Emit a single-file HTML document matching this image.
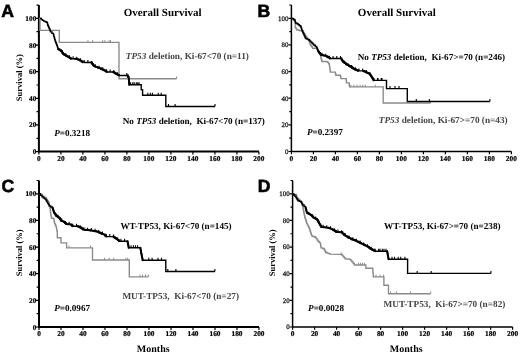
<!DOCTYPE html><html><head><meta charset="utf-8"><style>html,body{margin:0;padding:0;background:#fff;}svg{display:block;filter:grayscale(1);}text{font-family:"Liberation Serif",serif;text-rendering:geometricPrecision;}</style></head><body>
<svg width="520" height="353" viewBox="0 0 520 353">
<rect width="520" height="353" fill="#fff"/>
<g><path d="M38.9 5.08 V152.6 M37.9 151.6 H258.9" stroke="#000" stroke-width="2.0" fill="none"/><path d="M38.9 151.6 H35.7 M38.9 138.28 H36.5 M38.9 124.96 H35.7 M38.9 111.64 H36.5 M38.9 98.32 H35.7 M38.9 85 H36.5 M38.9 71.68 H35.7 M38.9 58.36 H36.5 M38.9 45.04 H35.7 M38.9 31.72 H36.5 M38.9 18.4 H35.7 M38.9 5.08 H36.5 M38.9 151.6 V154.6 M60.9 151.6 V154.6 M82.9 151.6 V154.6 M104.9 151.6 V154.6 M126.9 151.6 V154.6 M148.9 151.6 V154.6 M170.9 151.6 V154.6 M192.9 151.6 V154.6 M214.9 151.6 V154.6 M236.9 151.6 V154.6 M258.9 151.6 V154.6" stroke="#000" stroke-width="1.2" fill="none"/><text x="36.3" y="154.1" font-size="7.3" font-weight="bold" text-anchor="end" stroke="#000" stroke-width="0.2">0</text><text x="36.3" y="127.46" font-size="7.3" font-weight="bold" text-anchor="end" stroke="#000" stroke-width="0.2">20</text><text x="36.3" y="100.82" font-size="7.3" font-weight="bold" text-anchor="end" stroke="#000" stroke-width="0.2">40</text><text x="36.3" y="74.18" font-size="7.3" font-weight="bold" text-anchor="end" stroke="#000" stroke-width="0.2">60</text><text x="36.3" y="47.54" font-size="7.3" font-weight="bold" text-anchor="end" stroke="#000" stroke-width="0.2">80</text><text x="36.3" y="20.9" font-size="7.3" font-weight="bold" text-anchor="end" stroke="#000" stroke-width="0.2">100</text><text x="38.9" y="160.7" font-size="7.4" font-weight="bold" text-anchor="middle" stroke="#000" stroke-width="0.2">0</text><text x="60.9" y="160.7" font-size="7.4" font-weight="bold" text-anchor="middle" stroke="#000" stroke-width="0.2">20</text><text x="82.9" y="160.7" font-size="7.4" font-weight="bold" text-anchor="middle" stroke="#000" stroke-width="0.2">40</text><text x="104.9" y="160.7" font-size="7.4" font-weight="bold" text-anchor="middle" stroke="#000" stroke-width="0.2">60</text><text x="126.9" y="160.7" font-size="7.4" font-weight="bold" text-anchor="middle" stroke="#000" stroke-width="0.2">80</text><text x="148.9" y="160.7" font-size="7.4" font-weight="bold" text-anchor="middle" stroke="#000" stroke-width="0.2">100</text><text x="170.9" y="160.7" font-size="7.4" font-weight="bold" text-anchor="middle" stroke="#000" stroke-width="0.2">120</text><text x="192.9" y="160.7" font-size="7.4" font-weight="bold" text-anchor="middle" stroke="#000" stroke-width="0.2">140</text><text x="214.9" y="160.7" font-size="7.4" font-weight="bold" text-anchor="middle" stroke="#000" stroke-width="0.2">160</text><text x="236.9" y="160.7" font-size="7.4" font-weight="bold" text-anchor="middle" stroke="#000" stroke-width="0.2">180</text><text x="258.9" y="160.7" font-size="7.4" font-weight="bold" text-anchor="middle" stroke="#000" stroke-width="0.2">200</text><path d="M38.9 18.3 L40 18.3 L40 30.4 L59.3 30.4 L59.3 42.4 L119 42.4 L119 78.7 L176.6 78.7" stroke="#8a8a8a" stroke-width="1.35" fill="none" stroke-linejoin="miter"/><path d="M88 42.4 V40.2 M92.6 42.4 V40.2 M102.7 42.4 V40.2 M104.9 42.4 V40.2 M109.1 42.4 V40.2 M110.5 42.4 V40.2 M176.6 78.7 V76.5" stroke="#8a8a8a" stroke-width="1" fill="none"/><path d="M40 18.3 L41.4 18.4 L41.4 19.6 L42.55 19.6 L42.55 20.35 L43.7 20.35 L43.7 21.1 L44.95 21.1 L44.95 21.65 L46.2 21.65 L46.2 22.2 L47.2 22.2 L47.2 22.7 L47.45 22.7 L47.45 23.95 L47.7 23.95 L47.7 25.2 L48.25 25.2 L48.25 26.5 L48.8 26.5 L48.8 27.8 L49.3 27.8 L49.3 28.8 L49.8 28.8 L49.8 29.8 L50.15 29.8 L50.15 30.85 L50.5 30.85 L50.5 31.9 L51.95 31.9 L51.95 33.35 L53.4 33.35 L53.4 34.8 L53.83 34.8 L53.83 36.38 L54.25 36.38 L54.25 37.95 L54.67 37.95 L54.67 39.52 L55.1 39.52 L55.1 41.1 L55.67 41.1 L55.67 42.5 L56.23 42.5 L56.23 43.9 L56.8 43.9 L56.8 45.3 L57.23 45.3 L57.23 46.6 L57.67 46.6 L57.67 47.9 L58.1 47.9 L58.1 49.2 L59.55 49.2 L59.55 50.25 L61 50.25 L61 51.3 L62.1 51.3 L62.1 52.8 L63.2 52.8 L63.2 54.3 L64.47 54.3 L64.47 55 L65.73 55 L65.73 55.7 L67 55.7 L67 56.4 L68.27 56.4 L68.27 57.17 L69.53 57.17 L69.53 57.93 L70.8 57.93 L70.8 58.7 L75 58.7 L76.3 58.7 L76.3 59.07 L77.6 59.07 L77.6 59.43 L78.9 59.43 L78.9 59.8 L80.17 59.8 L80.17 60.63 L81.43 60.63 L81.43 61.47 L82.7 61.47 L82.7 62.3 L85.7 62.5 L90.9 62.5 L92 62.5 L92 63.9 L93.1 63.9 L93.1 65.3 L93.95 65.3 L93.95 65.95 L94.8 65.95 L94.8 66.6 L96.33 66.6 L96.33 67.17 L97.87 67.17 L97.87 67.73 L99.4 67.73 L99.4 68.3 L100.97 68.3 L100.97 69 L102.53 69 L102.53 69.7 L104.1 69.7 L104.1 70.4 L105.35 70.4 L105.35 71.2 L106.6 71.2 L106.6 72 L113 72 L114.13 72 L114.13 72.77 L115.27 72.77 L115.27 73.53 L116.4 73.53 L116.4 74.3 L117.7 74.3 L117.7 74.9 L119 74.9 L119 75.5 L127.3 75.5 L128 75.5 L128 77 L128.7 77 L128.7 78.5 L128.82 78.5 L128.82 80.05 L128.95 80.05 L128.95 81.6 L129.07 81.6 L129.07 83.15 L129.2 83.15 L129.2 84.7 L141.2 84.7 L141.2 89.7 L142.6 89.7 L142.6 95.3 L165.8 95.3 L165.8 106.5 L215 106.5" stroke="#000" stroke-width="1.4" fill="none" stroke-linejoin="miter"/><path d="M58.1 49.2 L59.55 49.2 L59.55 50.25 L61 50.25 L61 51.3 L62.1 51.3 L62.1 52.8 L63.2 52.8 L63.2 54.3 L64.47 54.3 L64.47 55 L65.73 55 L65.73 55.7 L67 55.7 L67 56.4 L68.27 56.4 L68.27 57.17 L69.53 57.17 L69.53 57.93 L70.8 57.93 L70.8 58.7 M75 58.7 L76.3 58.7 L76.3 59.07 L77.6 59.07 L77.6 59.43 L78.9 59.43 L78.9 59.8 L80.17 59.8 L80.17 60.63 L81.43 60.63 L81.43 61.47 L82.7 61.47 L82.7 62.3 M90.9 62.5 L92 62.5 L92 63.9 L93.1 63.9 L93.1 65.3 L93.95 65.3 L93.95 65.95 L94.8 65.95 L94.8 66.6 L96.33 66.6 L96.33 67.17 L97.87 67.17 L97.87 67.73 L99.4 67.73 L99.4 68.3 L100.97 68.3 L100.97 69 L102.53 69 L102.53 69.7 L104.1 69.7 L104.1 70.4 L105.35 70.4 L105.35 71.2 L106.6 71.2 L106.6 72 M113 72 L114.13 72 L114.13 72.77 L115.27 72.77 L115.27 73.53 L116.4 73.53 L116.4 74.3 L117.7 74.3 L117.7 74.9 L119 74.9 L119 75.5 M127.3 75.5 L128 75.5 L128 77 L128.7 77 L128.7 78.5 L128.82 78.5 L128.82 80.05 L128.95 80.05 L128.95 81.6 L129.07 81.6 L129.07 83.15 L129.2 83.15 L129.2 84.7" stroke="#000" stroke-width="1.9" fill="none" stroke-linejoin="round" stroke-linecap="round"/><path d="M126.8 75.5 V73 M130.6 84.7 V82.2 M132.7 84.7 V82.2 M134.2 84.7 V82.2 M136.3 84.7 V82.2 M137.7 84.7 V82.2 M139.1 84.7 V82.2 M147.8 95.3 V92.8 M150.3 95.3 V92.8 M152.4 95.3 V92.8 M158.3 95.3 V92.8 M161.2 95.3 V92.8 M168.5 106.5 V104 M175.1 106.5 V104 M215 106.5 V104 M62 52.66 V50.16 M65.7 55.68 V53.18 M69.4 57.85 V55.35 M73.1 58.7 V56.2 M76.8 59.21 V56.71 M80.5 60.85 V58.35 M84.2 62.4 V59.9 M87.9 62.5 V60 M91.6 63.39 V60.89 M95.3 66.78 V64.28 M99 68.15 V65.65 M102.7 69.77 V67.27 M106.4 71.87 V69.37 M110.1 72 V69.5 M113.8 72.54 V70.04 M117.5 74.81 V72.31" stroke="#000" stroke-width="1.1" fill="none"/><text x="1.2" y="17.4" font-size="17.6" font-weight="bold" stroke="#000" stroke-width="0.6" style="font-family:'Liberation Sans',sans-serif">A</text><text x="162.6" y="15.9" font-size="11.0" font-weight="bold" text-anchor="middle">Overall Survival</text><text x="125.8" y="58.8" font-size="9.25" font-weight="bold" fill="#444444"><tspan font-style="italic">TP53</tspan> deletion, Ki-67&lt;70 (n=11)</text><text x="122.7" y="123.5" font-size="9.15" font-weight="bold">No <tspan font-style="italic">TP53</tspan> deletion,&#160; Ki-67&lt;70 (n=137)</text><text x="54.2" y="135.6" font-size="9.15" font-weight="bold"><tspan font-style="italic">P</tspan>=0.3218</text><text transform="translate(19.3 77.7) rotate(-90)" x="0" y="0" font-size="8.5" font-weight="bold" text-anchor="middle" dominant-baseline="central">Survival (%)</text></g>
<g><path d="M291.4 4.98 V152.25 M290.65 151.5 H511.4" stroke="#000" stroke-width="1.5" fill="none"/><path d="M291.4 151.5 H288.45 M291.4 138.18 H289.25 M291.4 124.86 H288.45 M291.4 111.54 H289.25 M291.4 98.22 H288.45 M291.4 84.9 H289.25 M291.4 71.58 H288.45 M291.4 58.26 H289.25 M291.4 44.94 H288.45 M291.4 31.62 H289.25 M291.4 18.3 H288.45 M291.4 4.98 H289.25 M291.4 151.5 V154.25 M313.4 151.5 V154.25 M335.4 151.5 V154.25 M357.4 151.5 V154.25 M379.4 151.5 V154.25 M401.4 151.5 V154.25 M423.4 151.5 V154.25 M445.4 151.5 V154.25 M467.4 151.5 V154.25 M489.4 151.5 V154.25 M511.4 151.5 V154.25" stroke="#000" stroke-width="1.2" fill="none"/><text x="288.4" y="153.8" font-size="6.9" text-anchor="end" fill="#111" stroke="#222" stroke-width="0.28">0</text><text x="288.4" y="127.16" font-size="6.9" text-anchor="end" fill="#111" stroke="#222" stroke-width="0.28">20</text><text x="288.4" y="100.52" font-size="6.9" text-anchor="end" fill="#111" stroke="#222" stroke-width="0.28">40</text><text x="288.4" y="73.88" font-size="6.9" text-anchor="end" fill="#111" stroke="#222" stroke-width="0.28">60</text><text x="288.4" y="47.24" font-size="6.9" text-anchor="end" fill="#111" stroke="#222" stroke-width="0.28">80</text><text x="288.4" y="20.6" font-size="6.9" text-anchor="end" fill="#111" stroke="#222" stroke-width="0.28">100</text><text x="291.4" y="160.6" font-size="7.4" font-weight="bold" text-anchor="middle" stroke="#000" stroke-width="0.2">0</text><text x="313.4" y="160.6" font-size="7.4" font-weight="bold" text-anchor="middle" stroke="#000" stroke-width="0.2">20</text><text x="335.4" y="160.6" font-size="7.4" font-weight="bold" text-anchor="middle" stroke="#000" stroke-width="0.2">40</text><text x="357.4" y="160.6" font-size="7.4" font-weight="bold" text-anchor="middle" stroke="#000" stroke-width="0.2">60</text><text x="379.4" y="160.6" font-size="7.4" font-weight="bold" text-anchor="middle" stroke="#000" stroke-width="0.2">80</text><text x="401.4" y="160.6" font-size="7.4" font-weight="bold" text-anchor="middle" stroke="#000" stroke-width="0.2">100</text><text x="423.4" y="160.6" font-size="7.4" font-weight="bold" text-anchor="middle" stroke="#000" stroke-width="0.2">120</text><text x="445.4" y="160.6" font-size="7.4" font-weight="bold" text-anchor="middle" stroke="#000" stroke-width="0.2">140</text><text x="467.4" y="160.6" font-size="7.4" font-weight="bold" text-anchor="middle" stroke="#000" stroke-width="0.2">160</text><text x="489.4" y="160.6" font-size="7.4" font-weight="bold" text-anchor="middle" stroke="#000" stroke-width="0.2">180</text><text x="511.4" y="160.6" font-size="7.4" font-weight="bold" text-anchor="middle" stroke="#000" stroke-width="0.2">200</text><path d="M291.4 18.3 L292.67 18.3 L292.67 19.4 L293.93 19.4 L293.93 20.5 L295.2 20.5 L295.2 21.6 L295.2 27.2 L295.85 27.2 L295.85 28.45 L296.5 28.45 L296.5 29.7 L297.63 29.7 L297.63 30 L298.77 30 L298.77 30.3 L299.9 30.3 L299.9 30.6 L300.95 30.6 L300.95 30.8 L302 30.8 L302 31 L302.98 31 L302.98 32.45 L303.95 32.45 L303.95 33.9 L304.92 33.9 L304.92 35.35 L305.9 35.35 L305.9 36.8 L306.75 36.8 L306.75 38.07 L307.6 38.07 L307.6 39.35 L308.45 39.35 L308.45 40.62 L309.3 40.62 L309.3 41.9 L309.75 41.9 L309.75 43.4 L310.2 43.4 L310.2 44.9 L311.03 44.9 L311.03 46.03 L311.87 46.03 L311.87 47.17 L312.7 47.17 L312.7 48.3 L316.1 48.3 L317.05 48.3 L317.05 49.65 L318 49.65 L318 51 L318.8 51 L318.8 52.5 L319.6 52.5 L319.6 54 L320.4 54 L320.4 55.5 L320.75 55.5 L320.75 57 L321.1 57 L321.1 58.5 L321.45 58.5 L321.45 60 L321.8 60 L321.8 61.5 L326 61.5 L326.85 61.5 L326.85 61.9 L327.7 61.9 L327.7 62.3 L328.55 62.3 L328.55 63.8 L329.4 63.8 L329.4 65.3 L329.58 65.3 L329.58 66.66 L329.76 66.66 L329.76 68.02 L329.94 68.02 L329.94 69.38 L330.12 69.38 L330.12 70.74 L330.3 70.74 L330.3 72.1 L335 72.1 L335.4 72.1 L335.4 73.65 L335.8 73.65 L335.8 75.2 L340.1 75.2 L340.4 75.2 L340.4 76.33 L340.7 76.33 L340.7 77.47 L341 77.47 L341 78.6 L346 78.6 L346.17 78.6 L346.17 80 L346.33 80 L346.33 81.4 L346.5 81.4 L346.5 82.8 L349 82.8 L349.17 82.8 L349.17 84.17 L349.33 84.17 L349.33 85.53 L349.5 85.53 L349.5 86.9 L383.2 86.9 L383.2 103 L430.6 103" stroke="#8a8a8a" stroke-width="1.35" fill="none" stroke-linejoin="miter"/><path d="M350.8 86.9 V84.7 M353.9 86.9 V84.7 M357 86.9 V84.7 M360.1 86.9 V84.7 M362.8 86.9 V84.7 M365.3 86.9 V84.7 M375.2 86.9 V84.7 M430.6 103 V100.8" stroke="#8a8a8a" stroke-width="1" fill="none"/><path d="M291.4 18.3 L292 18.5 L293.4 18.5 L293.4 19.45 L294.8 19.45 L294.8 20.4 L295.15 20.4 L295.15 21.7 L295.5 21.7 L295.5 23 L296.9 23 L296.9 23.8 L298.17 23.8 L298.17 24.77 L299.43 24.77 L299.43 25.73 L300.7 25.73 L300.7 26.7 L301.17 26.7 L301.17 28.13 L301.63 28.13 L301.63 29.57 L302.1 29.57 L302.1 31 L302.78 31 L302.78 32.5 L303.46 32.5 L303.46 34 L304.14 34 L304.14 35.5 L304.82 35.5 L304.82 37 L305.5 37 L305.5 38.5 L307 38.5 L307 39.15 L308.5 39.15 L308.5 39.8 L309.55 39.8 L309.55 40.85 L310.6 40.85 L310.6 41.9 L311.73 41.9 L311.73 43.03 L312.87 43.03 L312.87 44.17 L314 44.17 L314 45.3 L315.3 45.3 L315.3 46.55 L316.6 46.55 L316.6 47.8 L317.17 47.8 L317.17 49.07 L317.73 49.07 L317.73 50.33 L318.3 50.33 L318.3 51.6 L319.2 51.6 L319.2 52.73 L320.1 52.73 L320.1 53.87 L321 53.87 L321 55 L322.4 55 L322.4 55.3 L323.8 55.3 L323.8 55.6 L325.2 55.6 L325.2 55.9 L326.77 55.9 L326.77 56.77 L328.33 56.77 L328.33 57.63 L329.9 57.63 L329.9 58.5 L340.9 58.5 L341.6 58.5 L341.6 59.63 L342.3 59.63 L342.3 60.77 L343 60.77 L343 61.9 L344.5 61.9 L344.5 63.15 L346 63.15 L346 64.4 L347.43 64.4 L347.43 65.17 L348.87 65.17 L348.87 65.93 L350.3 65.93 L350.3 66.7 L351.8 66.7 L351.8 67.75 L353.3 67.75 L353.3 68.8 L354.83 68.8 L354.83 69.5 L356.37 69.5 L356.37 70.2 L357.9 70.2 L357.9 70.9 L363 70.9 L364.3 70.9 L364.3 71.55 L365.6 71.55 L365.6 72.2 L366.8 72.2 L366.8 72.73 L368 72.73 L368 73.27 L369.2 73.27 L369.2 73.8 L370.1 73.8 L370.1 75.1 L371 75.1 L371 76.4 L371.9 76.4 L371.9 77.7 L372.7 77.7 L372.7 79.05 L373.5 79.05 L373.5 80.4 L386.5 80.4 L386.5 88.6 L407.3 88.6 L407.3 101.5 L489.9 101.5" stroke="#000" stroke-width="1.4" fill="none" stroke-linejoin="miter"/><path d="M318.3 51.6 L319.2 51.6 L319.2 52.73 L320.1 52.73 L320.1 53.87 L321 53.87 L321 55 L322.4 55 L322.4 55.3 L323.8 55.3 L323.8 55.6 L325.2 55.6 L325.2 55.9 L326.77 55.9 L326.77 56.77 L328.33 56.77 L328.33 57.63 L329.9 57.63 L329.9 58.5 M340.9 58.5 L341.6 58.5 L341.6 59.63 L342.3 59.63 L342.3 60.77 L343 60.77 L343 61.9 L344.5 61.9 L344.5 63.15 L346 63.15 L346 64.4 L347.43 64.4 L347.43 65.17 L348.87 65.17 L348.87 65.93 L350.3 65.93 L350.3 66.7 L351.8 66.7 L351.8 67.75 L353.3 67.75 L353.3 68.8 L354.83 68.8 L354.83 69.5 L356.37 69.5 L356.37 70.2 L357.9 70.2 L357.9 70.9 M363 70.9 L364.3 70.9 L364.3 71.55 L365.6 71.55 L365.6 72.2 L366.8 72.2 L366.8 72.73 L368 72.73 L368 73.27 L369.2 73.27 L369.2 73.8 L370.1 73.8 L370.1 75.1 L371 75.1 L371 76.4 L371.9 76.4 L371.9 77.7 L372.7 77.7 L372.7 79.05 L373.5 79.05 L373.5 80.4" stroke="#000" stroke-width="1.9" fill="none" stroke-linejoin="round" stroke-linecap="round"/><path d="M378 80.4 V77.9 M382 80.4 V77.9 M390 88.6 V86.1 M395 88.6 V86.1 M399 88.6 V86.1 M416.3 101.5 V99 M429.4 101.5 V99 M489.9 101.5 V99 M322 55.21 V52.71 M325.7 56.18 V53.68 M329.4 58.22 V55.72 M333.1 58.5 V56 M336.8 58.5 V56 M340.5 58.5 V56 M344.2 62.9 V60.4 M347.9 65.42 V62.92 M351.6 67.61 V65.11 M355.3 69.71 V67.21 M359 70.9 V68.4 M362.7 70.9 V68.4 M366.4 72.56 V70.06 M370.1 75.1 V72.6 M373.8 80.4 V77.9 M377.5 80.4 V77.9 M381.2 80.4 V77.9" stroke="#000" stroke-width="1.1" fill="none"/><text x="257.6" y="17.4" font-size="17.6" font-weight="bold" stroke="#000" stroke-width="0.6" style="font-family:'Liberation Sans',sans-serif">B</text><text x="396.8" y="16" font-size="11.0" font-weight="bold" text-anchor="middle">Overall Survival</text><text x="357.7" y="59.6" font-size="9.15" font-weight="bold">No <tspan font-style="italic">TP53</tspan> deletion,&#160; Ki-67&gt;=70 (n=246)</text><text x="378.8" y="123.2" font-size="9.25" font-weight="bold" fill="#444444"><tspan font-style="italic">TP53</tspan> deletion, Ki-67&gt;=70 (n=43)</text><text x="306.9" y="135" font-size="9.15" font-weight="bold"><tspan font-style="italic">P</tspan>=0.2397</text></g>
<g><path d="M39 180.48 V328 M38 327 H259" stroke="#000" stroke-width="2.0" fill="none"/><path d="M39 327 H35.8 M39 313.68 H36.6 M39 300.36 H35.8 M39 287.04 H36.6 M39 273.72 H35.8 M39 260.4 H36.6 M39 247.08 H35.8 M39 233.76 H36.6 M39 220.44 H35.8 M39 207.12 H36.6 M39 193.8 H35.8 M39 180.48 H36.6 M39 327 V330 M61 327 V330 M83 327 V330 M105 327 V330 M127 327 V330 M149 327 V330 M171 327 V330 M193 327 V330 M215 327 V330 M237 327 V330 M259 327 V330" stroke="#000" stroke-width="1.2" fill="none"/><text x="36.4" y="329.5" font-size="7.3" font-weight="bold" text-anchor="end" stroke="#000" stroke-width="0.2">0</text><text x="36.4" y="302.86" font-size="7.3" font-weight="bold" text-anchor="end" stroke="#000" stroke-width="0.2">20</text><text x="36.4" y="276.22" font-size="7.3" font-weight="bold" text-anchor="end" stroke="#000" stroke-width="0.2">40</text><text x="36.4" y="249.58" font-size="7.3" font-weight="bold" text-anchor="end" stroke="#000" stroke-width="0.2">60</text><text x="36.4" y="222.94" font-size="7.3" font-weight="bold" text-anchor="end" stroke="#000" stroke-width="0.2">80</text><text x="36.4" y="196.3" font-size="7.3" font-weight="bold" text-anchor="end" stroke="#000" stroke-width="0.2">100</text><text x="39" y="336.1" font-size="7.4" font-weight="bold" text-anchor="middle" stroke="#000" stroke-width="0.2">0</text><text x="61" y="336.1" font-size="7.4" font-weight="bold" text-anchor="middle" stroke="#000" stroke-width="0.2">20</text><text x="83" y="336.1" font-size="7.4" font-weight="bold" text-anchor="middle" stroke="#000" stroke-width="0.2">40</text><text x="105" y="336.1" font-size="7.4" font-weight="bold" text-anchor="middle" stroke="#000" stroke-width="0.2">60</text><text x="127" y="336.1" font-size="7.4" font-weight="bold" text-anchor="middle" stroke="#000" stroke-width="0.2">80</text><text x="149" y="336.1" font-size="7.4" font-weight="bold" text-anchor="middle" stroke="#000" stroke-width="0.2">100</text><text x="171" y="336.1" font-size="7.4" font-weight="bold" text-anchor="middle" stroke="#000" stroke-width="0.2">120</text><text x="193" y="336.1" font-size="7.4" font-weight="bold" text-anchor="middle" stroke="#000" stroke-width="0.2">140</text><text x="215" y="336.1" font-size="7.4" font-weight="bold" text-anchor="middle" stroke="#000" stroke-width="0.2">160</text><text x="237" y="336.1" font-size="7.4" font-weight="bold" text-anchor="middle" stroke="#000" stroke-width="0.2">180</text><text x="259" y="336.1" font-size="7.4" font-weight="bold" text-anchor="middle" stroke="#000" stroke-width="0.2">200</text><path d="M39 193.8 L40.25 193.8 L40.25 194.15 L41.5 194.15 L41.5 194.5 L42.25 194.5 L42.25 195.5 L43 195.5 L43 196.5 L44.5 196.5 L44.5 197.5 L46 197.5 L46 198.5 L46.75 198.5 L46.75 199.75 L47.5 199.75 L47.5 201 L48.25 201 L48.25 202.25 L49 202.25 L49 203.5 L49.25 203.5 L49.25 204.72 L49.5 204.72 L49.5 205.95 L49.75 205.95 L49.75 207.18 L50 207.18 L50 208.4 L50.18 208.4 L50.18 209.76 L50.36 209.76 L50.36 211.12 L50.54 211.12 L50.54 212.48 L50.72 212.48 L50.72 213.84 L50.9 213.84 L50.9 215.2 L51.2 215.2 L51.2 216.7 L51.5 216.7 L51.5 218.2 L52.55 218.2 L52.55 218.4 L53.6 218.4 L53.6 218.6 L53.9 218.6 L53.9 220.17 L54.2 220.17 L54.2 221.73 L54.5 221.73 L54.5 223.3 L55.07 223.3 L55.07 224.57 L55.63 224.57 L55.63 225.83 L56.2 225.83 L56.2 227.1 L56.48 227.1 L56.48 228.57 L56.75 228.57 L56.75 230.05 L57.02 230.05 L57.02 231.53 L57.3 231.53 L57.3 233 L57.3 237.7 L61 237.7 L61 242.8 L66.6 242.8 L66.6 247.8 L92.5 247.8 L92.5 260 L129.3 260 L129.3 276.8 L148.4 276.8" stroke="#8a8a8a" stroke-width="1.35" fill="none" stroke-linejoin="miter"/><path d="M69.1 247.8 V245.6 M90.5 247.8 V245.6 M104.5 260 V257.8 M109.2 260 V257.8 M113.7 260 V257.8 M125.8 260 V257.8 M127.7 260 V257.8 M140 276.8 V274.6 M142.5 276.8 V274.6 M145.5 276.8 V274.6 M148.4 276.8 V274.6" stroke="#8a8a8a" stroke-width="1" fill="none"/><path d="M39 193.8 L40.45 193.8 L40.45 195.35 L41.9 195.35 L41.9 196.9 L43.2 196.9 L43.2 197.9 L44.5 197.9 L44.5 198.9 L45.8 198.9 L45.8 199.9 L46.4 199.9 L46.4 200.95 L47 200.95 L47 202 L47.73 202 L47.73 203.33 L48.47 203.33 L48.47 204.67 L49.2 204.67 L49.2 206 L50.8 206 L50.8 207 L52.4 207 L52.4 208 L52.83 208 L52.83 209.28 L53.25 209.28 L53.25 210.55 L53.67 210.55 L53.67 211.82 L54.1 211.82 L54.1 213.1 L55.15 213.1 L55.15 214.55 L56.2 214.55 L56.2 216 L57.45 216 L57.45 216.85 L58.7 216.85 L58.7 217.7 L59.8 217.7 L59.8 219.2 L60.9 219.2 L60.9 220.7 L62.35 220.7 L62.35 221.35 L63.8 221.35 L63.8 222 L64.9 222 L64.9 223.05 L66 223.05 L66 224.1 L67.53 224.1 L67.53 224.23 L69.07 224.23 L69.07 224.37 L70.6 224.37 L70.6 224.5 L71.45 224.5 L71.45 225.35 L72.3 225.35 L72.3 226.2 L77 226.2 L78.5 226.2 L78.5 226.85 L80 226.85 L80 227.5 L81.45 227.5 L81.45 228.55 L82.9 228.55 L82.9 229.6 L84.45 229.6 L84.45 229.8 L86 229.8 L86 230 L87.45 230 L87.45 230.15 L88.9 230.15 L88.9 230.3 L90.35 230.3 L90.35 230.45 L91.8 230.45 L91.8 230.6 L93.28 230.6 L93.28 230.93 L94.75 230.93 L94.75 231.25 L96.22 231.25 L96.22 231.57 L97.7 231.57 L97.7 231.9 L98.85 231.9 L98.85 232.45 L100 232.45 L100 233 L101.1 233 L101.1 233.47 L102.2 233.47 L102.2 233.93 L103.3 233.93 L103.3 234.4 L104.75 234.4 L104.75 235.5 L106.2 235.5 L106.2 236.6 L113 236.6 L114.13 236.6 L114.13 237.43 L115.27 237.43 L115.27 238.27 L116.4 238.27 L116.4 239.1 L117.7 239.1 L117.7 240.15 L119 240.15 L119 241.2 L127.3 241.3 L127.62 241.3 L127.62 242.9 L127.95 242.9 L127.95 244.5 L128.28 244.5 L128.28 246.1 L128.6 246.1 L128.6 247.7 L140.2 247.7 L140.45 247.7 L140.45 249.15 L140.7 249.15 L140.7 250.6 L140.95 250.6 L140.95 252.05 L141.2 252.05 L141.2 253.5 L141.48 253.5 L141.48 254.86 L141.76 254.86 L141.76 256.22 L142.04 256.22 L142.04 257.58 L142.32 257.58 L142.32 258.94 L142.6 258.94 L142.6 260.3 L165.8 260.3 L165.8 271.5 L214.9 271.5" stroke="#000" stroke-width="1.4" fill="none" stroke-linejoin="miter"/><path d="M52.4 208 L52.83 208 L52.83 209.28 L53.25 209.28 L53.25 210.55 L53.67 210.55 L53.67 211.82 L54.1 211.82 L54.1 213.1 L55.15 213.1 L55.15 214.55 L56.2 214.55 L56.2 216 L57.45 216 L57.45 216.85 L58.7 216.85 L58.7 217.7 L59.8 217.7 L59.8 219.2 L60.9 219.2 L60.9 220.7 L62.35 220.7 L62.35 221.35 L63.8 221.35 L63.8 222 L64.9 222 L64.9 223.05 L66 223.05 L66 224.1 L67.53 224.1 L67.53 224.23 L69.07 224.23 L69.07 224.37 L70.6 224.37 L70.6 224.5 L71.45 224.5 L71.45 225.35 L72.3 225.35 L72.3 226.2 M77 226.2 L78.5 226.2 L78.5 226.85 L80 226.85 L80 227.5 L81.45 227.5 L81.45 228.55 L82.9 228.55 L82.9 229.6 L84.45 229.6 L84.45 229.8 L86 229.8 L86 230 L87.45 230 L87.45 230.15 L88.9 230.15 L88.9 230.3 L90.35 230.3 L90.35 230.45 L91.8 230.45 L91.8 230.6 L93.28 230.6 L93.28 230.93 L94.75 230.93 L94.75 231.25 L96.22 231.25 L96.22 231.57 L97.7 231.57 L97.7 231.9 L98.85 231.9 L98.85 232.45 L100 232.45 L100 233 L101.1 233 L101.1 233.47 L102.2 233.47 L102.2 233.93 L103.3 233.93 L103.3 234.4 L104.75 234.4 L104.75 235.5 L106.2 235.5 L106.2 236.6 M113 236.6 L114.13 236.6 L114.13 237.43 L115.27 237.43 L115.27 238.27 L116.4 238.27 L116.4 239.1 L117.7 239.1 L117.7 240.15 L119 240.15 L119 241.2 M127.3 241.3 L127.62 241.3 L127.62 242.9 L127.95 242.9 L127.95 244.5 L128.28 244.5 L128.28 246.1 L128.6 246.1 L128.6 247.7 M140.2 247.7 L140.45 247.7 L140.45 249.15 L140.7 249.15 L140.7 250.6 L140.95 250.6 L140.95 252.05 L141.2 252.05 L141.2 253.5 L141.48 253.5 L141.48 254.86 L141.76 254.86 L141.76 256.22 L142.04 256.22 L142.04 257.58 L142.32 257.58 L142.32 258.94 L142.6 258.94 L142.6 260.3" stroke="#000" stroke-width="1.9" fill="none" stroke-linejoin="round" stroke-linecap="round"/><path d="M131 247.7 V245.2 M133.4 247.7 V245.2 M135.5 247.7 V245.2 M137.6 247.7 V245.2 M148.8 260.3 V257.8 M152.1 260.3 V257.8 M158 260.3 V257.8 M161.5 260.3 V257.8 M167.8 271.5 V269 M175.9 271.5 V269 M214.9 271.5 V269 M58 217.22 V214.72 M61.7 221.06 V218.56 M65.4 223.53 V221.03 M69.1 224.37 V221.87 M72.8 226.2 V223.7 M76.5 226.2 V223.7 M80.2 227.64 V225.14 M83.9 229.73 V227.23 M87.6 230.17 V227.67 M91.3 230.55 V228.05 M95 231.31 V228.81 M98.7 232.38 V229.88 M102.4 234.02 V231.52 M106.1 236.52 V234.02 M109.8 236.6 V234.1 M113.5 236.97 V234.47 M117.2 239.75 V237.25 M120.9 241.22 V238.72 M124.6 241.27 V238.77" stroke="#000" stroke-width="1.1" fill="none"/><text x="1.6" y="192.4" font-size="17.6" font-weight="bold" stroke="#000" stroke-width="0.6" style="font-family:'Liberation Sans',sans-serif">C</text><text x="120.4" y="228.5" font-size="9.15" font-weight="bold">WT-TP53, Ki-67&lt;70 (n=145)</text><text x="122.4" y="298.5" font-size="9.25" font-weight="bold" fill="#444444">MUT-TP53,&#160; Ki-67&lt;70 (n=27)</text><text x="54.2" y="310.8" font-size="9.15" font-weight="bold"><tspan font-style="italic">P</tspan>=0.0967</text><text transform="translate(19.4 252.8) rotate(-90)" x="0" y="0" font-size="8.5" font-weight="bold" text-anchor="middle" dominant-baseline="central">Survival (%)</text><text x="153.2" y="351.5" font-size="10.0" font-weight="bold" text-anchor="middle">Months</text></g>
<g><path d="M292.6 180.48 V327.75 M291.85 327 H512.6" stroke="#000" stroke-width="1.5" fill="none"/><path d="M292.6 327 H289.65 M292.6 313.68 H290.45 M292.6 300.36 H289.65 M292.6 287.04 H290.45 M292.6 273.72 H289.65 M292.6 260.4 H290.45 M292.6 247.08 H289.65 M292.6 233.76 H290.45 M292.6 220.44 H289.65 M292.6 207.12 H290.45 M292.6 193.8 H289.65 M292.6 180.48 H290.45 M292.6 327 V329.75 M314.6 327 V329.75 M336.6 327 V329.75 M358.6 327 V329.75 M380.6 327 V329.75 M402.6 327 V329.75 M424.6 327 V329.75 M446.6 327 V329.75 M468.6 327 V329.75 M490.6 327 V329.75 M512.6 327 V329.75" stroke="#000" stroke-width="1.2" fill="none"/><text x="289.6" y="329.3" font-size="6.9" text-anchor="end" fill="#111" stroke="#222" stroke-width="0.28">0</text><text x="289.6" y="302.66" font-size="6.9" text-anchor="end" fill="#111" stroke="#222" stroke-width="0.28">20</text><text x="289.6" y="276.02" font-size="6.9" text-anchor="end" fill="#111" stroke="#222" stroke-width="0.28">40</text><text x="289.6" y="249.38" font-size="6.9" text-anchor="end" fill="#111" stroke="#222" stroke-width="0.28">60</text><text x="289.6" y="222.74" font-size="6.9" text-anchor="end" fill="#111" stroke="#222" stroke-width="0.28">80</text><text x="289.6" y="196.1" font-size="6.9" text-anchor="end" fill="#111" stroke="#222" stroke-width="0.28">100</text><text x="292.6" y="336.1" font-size="7.4" font-weight="bold" text-anchor="middle" stroke="#000" stroke-width="0.2">0</text><text x="314.6" y="336.1" font-size="7.4" font-weight="bold" text-anchor="middle" stroke="#000" stroke-width="0.2">20</text><text x="336.6" y="336.1" font-size="7.4" font-weight="bold" text-anchor="middle" stroke="#000" stroke-width="0.2">40</text><text x="358.6" y="336.1" font-size="7.4" font-weight="bold" text-anchor="middle" stroke="#000" stroke-width="0.2">60</text><text x="380.6" y="336.1" font-size="7.4" font-weight="bold" text-anchor="middle" stroke="#000" stroke-width="0.2">80</text><text x="402.6" y="336.1" font-size="7.4" font-weight="bold" text-anchor="middle" stroke="#000" stroke-width="0.2">100</text><text x="424.6" y="336.1" font-size="7.4" font-weight="bold" text-anchor="middle" stroke="#000" stroke-width="0.2">120</text><text x="446.6" y="336.1" font-size="7.4" font-weight="bold" text-anchor="middle" stroke="#000" stroke-width="0.2">140</text><text x="468.6" y="336.1" font-size="7.4" font-weight="bold" text-anchor="middle" stroke="#000" stroke-width="0.2">160</text><text x="490.6" y="336.1" font-size="7.4" font-weight="bold" text-anchor="middle" stroke="#000" stroke-width="0.2">180</text><text x="512.6" y="336.1" font-size="7.4" font-weight="bold" text-anchor="middle" stroke="#000" stroke-width="0.2">200</text><path d="M292.6 193.9 L293.73 193.9 L293.73 194.1 L294.87 194.1 L294.87 194.3 L296 194.3 L296 194.5 L296.33 194.5 L296.33 195.67 L296.67 195.67 L296.67 196.83 L297 196.83 L297 198 L298 198 L298 199 L299 199 L299 200 L300 200 L300 201 L301 201 L301 202 L301.53 202 L301.53 203.5 L302.07 203.5 L302.07 205 L302.6 205 L302.6 206.5 L302.9 206.5 L302.9 208 L303.2 208 L303.2 209.5 L303.5 209.5 L303.5 211 L303.8 211 L303.8 212.5 L304.1 212.5 L304.1 214 L304.4 214 L304.4 215.5 L304.7 215.5 L304.7 217 L305.12 217 L305.12 218.32 L305.54 218.32 L305.54 219.64 L305.96 219.64 L305.96 220.96 L306.38 220.96 L306.38 222.28 L306.8 222.28 L306.8 223.6 L307.43 223.6 L307.43 224.88 L308.05 224.88 L308.05 226.15 L308.68 226.15 L308.68 227.42 L309.3 227.42 L309.3 228.7 L309.73 228.7 L309.73 229.97 L310.15 229.97 L310.15 231.25 L310.57 231.25 L310.57 232.53 L311 232.53 L311 233.8 L311.35 233.8 L311.35 234.85 L311.7 234.85 L311.7 235.9 L312.83 235.9 L312.83 236.33 L313.97 236.33 L313.97 236.77 L315.1 236.77 L315.1 237.2 L316.1 237.2 L316.1 238.63 L317.1 238.63 L317.1 240.07 L318.1 240.07 L318.1 241.5 L319.15 241.5 L319.15 242.35 L320.2 242.35 L320.2 243.2 L320.47 243.2 L320.47 244.73 L320.73 244.73 L320.73 246.27 L321 246.27 L321 247.8 L322.5 247.8 L322.5 248.45 L324 248.45 L324 249.1 L324.57 249.1 L324.57 250.23 L325.13 250.23 L325.13 251.37 L325.7 251.37 L325.7 252.5 L327.13 252.5 L327.13 253.07 L328.57 253.07 L328.57 253.63 L330 253.63 L330 254.2 L341 254.4 L342 254.4 L342 255.4 L343 255.4 L343 256.4 L344.05 256.4 L344.05 257.65 L345.1 257.65 L345.1 258.9 L346.67 258.9 L346.67 259.03 L348.23 259.03 L348.23 259.17 L349.8 259.17 L349.8 259.3 L350.85 259.3 L350.85 260.6 L351.9 260.6 L351.9 261.9 L353.15 261.9 L353.15 263.45 L354.4 263.45 L354.4 265 L365.9 265 L365.9 268.2 L372.7 268.2 L372.8 268.2 L372.8 269.65 L372.9 269.65 L372.9 271.1 L373 271.1 L373 272.55 L373.1 272.55 L373.1 274 L373.2 274 L373.2 275.45 L373.3 275.45 L373.3 276.9 L383.9 276.9 L383.9 285.2 L388.5 285.2 L388.5 293.7 L430.7 293.7" stroke="#8a8a8a" stroke-width="1.35" fill="none" stroke-linejoin="miter"/><path d="M341.3 254.7 V252.5 M358.5 265 V262.8 M360.4 265 V262.8 M362.5 265 V262.8 M364.5 265 V262.8 M376 276.9 V274.7 M380 276.9 V274.7 M383.6 276.9 V274.7 M390.5 293.7 V291.5 M396.4 293.7 V291.5 M410.5 293.7 V291.5 M430.7 293.7 V291.5" stroke="#8a8a8a" stroke-width="1" fill="none"/><path d="M292.6 193.9 L293.67 193.9 L293.67 195.03 L294.73 195.03 L294.73 196.17 L295.8 196.17 L295.8 197.3 L296.5 197.3 L296.5 198.43 L297.2 198.43 L297.2 199.57 L297.9 199.57 L297.9 200.7 L299.4 200.7 L299.4 201.35 L300.9 201.35 L300.9 202 L301.75 202 L301.75 203.5 L302.6 203.5 L302.6 205 L304.1 205 L304.1 206.5 L305.6 206.5 L305.6 208 L305.9 208 L305.9 209.2 L306.2 209.2 L306.2 210.4 L306.5 210.4 L306.5 211.6 L306.8 211.6 L306.8 212.8 L308.07 212.8 L308.07 213.57 L309.33 213.57 L309.33 214.33 L310.6 214.33 L310.6 215.1 L311.9 215.1 L311.9 216.35 L313.2 216.35 L313.2 217.6 L314.47 217.6 L314.47 218.33 L315.73 218.33 L315.73 219.07 L317 219.07 L317 219.8 L317.7 219.8 L317.7 221.07 L318.4 221.07 L318.4 222.33 L319.1 222.33 L319.1 223.6 L319.8 223.6 L319.8 224.73 L320.5 224.73 L320.5 225.87 L321.2 225.87 L321.2 227 L322.33 227 L322.33 227.13 L323.47 227.13 L323.47 227.27 L324.6 227.27 L324.6 227.4 L326.03 227.4 L326.03 227.6 L327.47 227.6 L327.47 227.8 L328.9 227.8 L328.9 228 L330.27 228 L330.27 228.67 L331.63 228.67 L331.63 229.33 L333 229.33 L333 230 L334.5 230 L334.5 231 L336 231 L336 232 L337.25 232 L337.25 232.07 L338.5 232.07 L338.5 232.15 L339.75 232.15 L339.75 232.23 L341 232.23 L341 232.3 L342.5 232.3 L342.5 233.65 L344 233.65 L344 235 L345.33 235 L345.33 235.83 L346.67 235.83 L346.67 236.67 L348 236.67 L348 237.5 L349.33 237.5 L349.33 238.17 L350.67 238.17 L350.67 238.83 L352 238.83 L352 239.5 L353.5 239.5 L353.5 240 L355 240 L355 240.5 L356.25 240.5 L356.25 241.12 L357.5 241.12 L357.5 241.75 L358.75 241.75 L358.75 242.38 L360 242.38 L360 243 L361.33 243 L361.33 243.67 L362.67 243.67 L362.67 244.33 L364 244.33 L364 245 L365.33 245 L365.33 245.67 L366.67 245.67 L366.67 246.33 L368 246.33 L368 247 L369.25 247 L369.25 248 L370.5 248 L370.5 249 L372.03 249 L372.03 249.73 L373.57 249.73 L373.57 250.47 L375.1 250.47 L375.1 251.2 L387 251.2 L387.25 251.2 L387.25 252.55 L387.5 252.55 L387.5 253.9 L387.75 253.9 L387.75 255.25 L388 255.25 L388 256.6 L388.25 256.6 L388.25 257.95 L388.5 257.95 L388.5 259.3 L407.6 259.3 L407.6 273.4 L490.9 273.4" stroke="#000" stroke-width="1.4" fill="none" stroke-linejoin="miter"/><path d="M305.6 208 L305.9 208 L305.9 209.2 L306.2 209.2 L306.2 210.4 L306.5 210.4 L306.5 211.6 L306.8 211.6 L306.8 212.8 L308.07 212.8 L308.07 213.57 L309.33 213.57 L309.33 214.33 L310.6 214.33 L310.6 215.1 L311.9 215.1 L311.9 216.35 L313.2 216.35 L313.2 217.6 L314.47 217.6 L314.47 218.33 L315.73 218.33 L315.73 219.07 L317 219.07 L317 219.8 L317.7 219.8 L317.7 221.07 L318.4 221.07 L318.4 222.33 L319.1 222.33 L319.1 223.6 L319.8 223.6 L319.8 224.73 L320.5 224.73 L320.5 225.87 L321.2 225.87 L321.2 227 L322.33 227 L322.33 227.13 L323.47 227.13 L323.47 227.27 L324.6 227.27 L324.6 227.4 L326.03 227.4 L326.03 227.6 L327.47 227.6 L327.47 227.8 L328.9 227.8 L328.9 228 L330.27 228 L330.27 228.67 L331.63 228.67 L331.63 229.33 L333 229.33 L333 230 L334.5 230 L334.5 231 L336 231 L336 232 L337.25 232 L337.25 232.07 L338.5 232.07 L338.5 232.15 L339.75 232.15 L339.75 232.23 L341 232.23 L341 232.3 L342.5 232.3 L342.5 233.65 L344 233.65 L344 235 L345.33 235 L345.33 235.83 L346.67 235.83 L346.67 236.67 L348 236.67 L348 237.5 L349.33 237.5 L349.33 238.17 L350.67 238.17 L350.67 238.83 L352 238.83 L352 239.5 L353.5 239.5 L353.5 240 L355 240 L355 240.5 L356.25 240.5 L356.25 241.12 L357.5 241.12 L357.5 241.75 L358.75 241.75 L358.75 242.38 L360 242.38 L360 243 L361.33 243 L361.33 243.67 L362.67 243.67 L362.67 244.33 L364 244.33 L364 245 L365.33 245 L365.33 245.67 L366.67 245.67 L366.67 246.33 L368 246.33 L368 247 L369.25 247 L369.25 248 L370.5 248 L370.5 249 L372.03 249 L372.03 249.73 L373.57 249.73 L373.57 250.47 L375.1 250.47 L375.1 251.2 M387 251.2 L387.25 251.2 L387.25 252.55 L387.5 252.55 L387.5 253.9 L387.75 253.9 L387.75 255.25 L388 255.25 L388 256.6 L388.25 256.6 L388.25 257.95 L388.5 257.95 L388.5 259.3" stroke="#000" stroke-width="1.9" fill="none" stroke-linejoin="round" stroke-linecap="round"/><path d="M380 251.2 V248.7 M384 251.2 V248.7 M392 259.3 V256.8 M394.5 259.3 V256.8 M398.2 259.3 V256.8 M400.7 259.3 V256.8 M404.9 259.3 V256.8 M417.2 273.4 V270.9 M431.2 273.4 V270.9 M490.9 273.4 V270.9 M312 216.45 V213.95 M315.7 219.05 V216.55 M319.4 224.09 V221.59 M323.1 227.22 V224.72 M326.8 227.71 V225.21 M330.5 228.78 V226.28 M334.2 230.8 V228.3 M337.9 232.11 V229.61 M341.6 232.84 V230.34 M345.3 235.81 V233.31 M349 238 V235.5 M352.7 239.73 V237.23 M356.4 241.2 V238.7 M360.1 243.05 V240.55 M363.8 244.9 V242.4 M367.5 246.75 V244.25 M371.2 249.33 V246.83 M374.9 251.1 V248.6 M378.6 251.2 V248.7 M382.3 251.2 V248.7 M386 251.2 V248.7" stroke="#000" stroke-width="1.1" fill="none"/><text x="257.8" y="192.4" font-size="17.6" font-weight="bold" stroke="#000" stroke-width="0.6" style="font-family:'Liberation Sans',sans-serif">D</text><text x="384.1" y="228.5" font-size="9.15" font-weight="bold">WT-TP53, Ki-67&gt;=70 (n=238)</text><text x="383.5" y="306.5" font-size="9.25" font-weight="bold" fill="#444444">MUT-TP53,&#160; Ki-67&gt;=70 (n=82)</text><text x="308.1" y="310.8" font-size="9.15" font-weight="bold"><tspan font-style="italic">P</tspan>=0.0028</text><text transform="translate(272 252.8) rotate(-90)" x="0" y="0" font-size="8.5" font-weight="bold" text-anchor="middle" dominant-baseline="central">Survival (%)</text><text x="406.2" y="351.5" font-size="10.0" font-weight="bold" text-anchor="middle">Months</text></g>
</svg></body></html>
